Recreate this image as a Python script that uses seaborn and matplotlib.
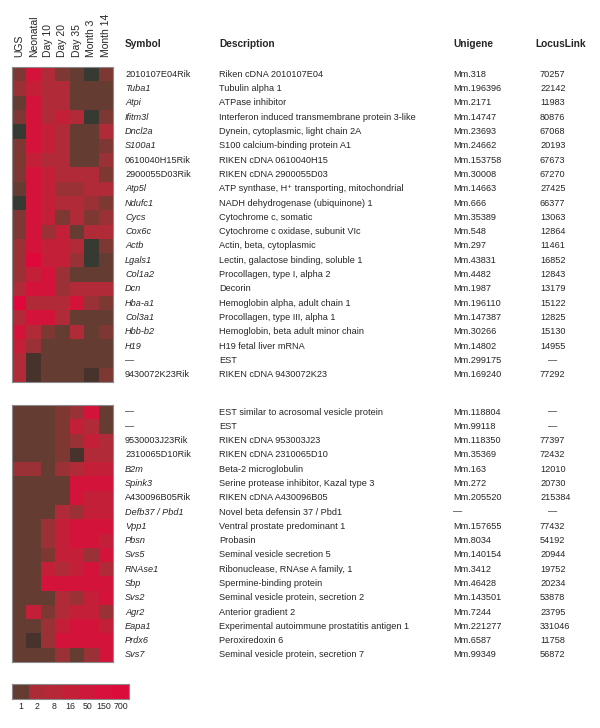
import numpy as np
import matplotlib
matplotlib.use("Agg")
import matplotlib.pyplot as plt
import matplotlib.transforms as mtransforms
from matplotlib.colors import LinearSegmentedColormap
import seaborn as sns

sns.set_style("white")
plt.rcParams['font.family'] = ['Liberation Sans', 'DejaVu Sans']

# stages (heatmap columns)
stages = ["UGS", "Neonatal", "Day 10", "Day 20", "Day 35", "Month 3", "Month 14"]

# expression level codes
# 0 = dark grey, 1 = dark brown, 2 = brown (1x) ... 8 = brightest red
top_symbols = ["2010107E04Rik", "Tuba1", "Atpi", "Ifitm3l", "Dncl2a", "S100a1",
               "0610040H15Rik", "2900055D03Rik", "Atp5l", "Ndufc1", "Cycs", "Cox6c",
               "Actb", "Lgals1", "Col1a2", "Dcn", "Hba-a1", "Col3a1", "Hbb-b2", "H19",
               "\u2014", "9430072K23Rik"]
top_italic = [False, True, True, True, True, True, False, False, True, True, True, True,
              True, True, True, True, True, True, True, True, False, False]
top_desc = ["Riken cDNA 2010107E04", "Tubulin alpha 1", "ATPase inhibitor",
            "Interferon induced transmembrane protein 3-like",
            "Dynein, cytoplasmic, light chain 2A", "S100 calcium-binding protein A1",
            "RIKEN cDNA 0610040H15", "RIKEN cDNA 2900055D03",
            "ATP synthase, H\u207a transporting, mitochondrial",
            "NADH dehydrogenase (ubiquinone) 1", "Cytochrome c, somatic",
            "Cytochrome c oxidase, subunit VIc", "Actin, beta, cytoplasmic",
            "Lectin, galactose binding, soluble 1", "Procollagen, type I, alpha 2",
            "Decorin", "Hemoglobin alpha, adult chain 1", "Procollagen, type III, alpha 1",
            "Hemoglobin, beta adult minor chain", "H19 fetal liver mRNA", "EST",
            "RIKEN cDNA 9430072K23"]
top_unigene = ["Mm.318", "Mm.196396", "Mm.2171", "Mm.14747", "Mm.23693", "Mm.24662",
               "Mm.153758", "Mm.30008", "Mm.14663", "Mm.666", "Mm.35389", "Mm.548",
               "Mm.297", "Mm.43831", "Mm.4482", "Mm.1987", "Mm.196110", "Mm.147387",
               "Mm.30266", "Mm.14802", "Mm.299175", "Mm.169240"]
top_locus = ["70257", "22142", "11983", "80876", "67068", "20193", "67673", "67270",
             "27425", "66377", "13063", "12864", "11461", "16852", "12843", "13179",
             "15122", "12825", "15130", "14955", "\u2014", "77292"]
top_levels = [
    [3, 7, 5, 3, 2, 0, 3],
    [4, 6, 5, 5, 2, 2, 2],
    [2, 7, 5, 5, 2, 2, 2],
    [3, 7, 5, 6, 5, 0, 3],
    [0, 7, 6, 5, 2, 2, 5],
    [3, 7, 6, 5, 2, 2, 3],
    [3, 6, 5, 5, 2, 2, 4],
    [3, 7, 6, 5, 5, 5, 3],
    [2, 7, 6, 4, 4, 5, 5],
    [0, 7, 6, 5, 5, 4, 3],
    [3, 7, 6, 3, 5, 3, 4],
    [3, 7, 4, 6, 2, 5, 5],
    [4, 7, 6, 6, 5, 0, 3],
    [4, 8, 6, 6, 4, 0, 2],
    [4, 6, 7, 4, 2, 2, 2],
    [5, 7, 7, 4, 5, 5, 5],
    [8, 5, 5, 5, 7, 4, 3],
    [5, 7, 7, 5, 2, 2, 2],
    [7, 5, 3, 2, 5, 2, 3],
    [6, 4, 2, 2, 2, 2, 2],
    [5, 1, 2, 2, 2, 2, 2],
    [5, 1, 2, 2, 2, 1, 3],
]

bot_symbols = ["\u2014", "\u2014", "9530003J23Rik", "2310065D10Rik", "B2m", "Spink3",
               "A430096B05Rik", "Defb37 / Pbd1", "Vpp1", "Pbsn", "Svs5", "RNAse1", "Sbp",
               "Svs2", "Agr2", "Eapa1", "Prdx6", "Svs7"]
bot_italic = [False, False, False, False, True, True, False, True, True, True, True, True,
              True, True, True, True, True, True]
bot_desc = ["EST similar to acrosomal vesicle protein", "EST", "RIKEN cDNA 953003J23",
            "RIKEN cDNA 2310065D10", "Beta-2 microglobulin",
            "Serine protease inhibitor, Kazal type 3", "RIKEN cDNA A430096B05",
            "Novel beta defensin 37 / Pbd1", "Ventral prostate predominant 1", "Probasin",
            "Seminal vesicle secretion 5", "Ribonuclease, RNAse A family, 1",
            "Spermine-binding protein", "Seminal vesicle protein, secretion 2",
            "Anterior gradient 2", "Experimental autoimmune prostatitis antigen 1",
            "Peroxiredoxin 6", "Seminal vesicle protein, secretion 7"]
bot_unigene = ["Mm.118804", "Mm.99118", "Mm.118350", "Mm.35369", "Mm.163", "Mm.272",
               "Mm.205520", "\u2014", "Mm.157655", "Mm.8034", "Mm.140154", "Mm.3412",
               "Mm.46428", "Mm.143501", "Mm.7244", "Mm.221277", "Mm.6587", "Mm.99349"]
bot_locus = ["\u2014", "\u2014", "77397", "72432", "12010", "20730", "215384", "\u2014",
             "77432", "54192", "20944", "19752", "20234", "53878", "23795", "331046",
             "11758", "56872"]
bot_levels = [
    [2, 2, 2, 3, 4, 7, 2],
    [2, 2, 2, 3, 6, 5, 2],
    [2, 2, 2, 3, 4, 6, 5],
    [2, 2, 2, 3, 1, 5, 5],
    [4, 4, 2, 4, 5, 6, 6],
    [2, 2, 2, 2, 7, 7, 7],
    [2, 2, 2, 2, 7, 6, 6],
    [2, 2, 2, 5, 4, 6, 6],
    [2, 2, 4, 6, 7, 7, 7],
    [2, 2, 4, 6, 7, 7, 6],
    [2, 2, 3, 6, 6, 4, 7],
    [2, 2, 6, 5, 6, 7, 5],
    [2, 2, 7, 7, 7, 7, 7],
    [2, 2, 2, 5, 4, 6, 7],
    [2, 6, 3, 5, 6, 6, 4],
    [2, 2, 4, 6, 7, 7, 6],
    [2, 1, 4, 7, 7, 7, 7],
    [2, 2, 2, 4, 2, 4, 7],
]

# colour key
key_labels = ["1", "2", "8", "16", "50", "150", "700"]
key_levels = [2, 4.8, 5.3, 6.0, 6.6, 7.2, 7.6]

level_colors = ["#373a33", "#47332c", "#643c31", "#7e3834", "#9a3136",
                "#b02a37", "#c41f39", "#d4133b", "#e0083a"]
cmap = LinearSegmentedColormap.from_list("expr", level_colors)

W, H = 600, 728
fig = plt.figure(figsize=(W / 100, H / 100), dpi=100)


def fig_box(x0, y0, x1, y1):
    return [x0 / W, 1 - y1 / H, (x1 - x0) / W, (y1 - y0) / H]


def outline(ax):
    for s in ax.spines.values():
        s.set_visible(True)
        s.set_color("#8a8a8a")
        s.set_linewidth(0.8)


def draw_block(box, levels, symbols, italic, desc, unigene, locus, labels):
    ax = fig.add_axes(box)
    sns.heatmap(np.array(levels), ax=ax, cmap=cmap, vmin=0, vmax=8, cbar=False,
                xticklabels=stages if labels else False, yticklabels=False)
    outline(ax)
    if labels:
        ax.xaxis.tick_top()
        ax.tick_params(axis="x", length=0, pad=7, labelsize=7.5)
        plt.setp(ax.get_xticklabels(), rotation=90, va="bottom")
    tr = mtransforms.blended_transform_factory(fig.transFigure, ax.transData)
    fs = 6.6
    for i in range(len(symbols)):
        y = i + 0.5
        ax.text(125 / W, y, symbols[i], transform=tr, fontsize=fs, va="center",
                style="italic" if italic[i] else "normal", clip_on=False)
        ax.text(219 / W, y, desc[i], transform=tr, fontsize=fs, va="center", clip_on=False)
        ax.text(453 / W, y, unigene[i], transform=tr, fontsize=fs, va="center", clip_on=False)
        lx = 548 / W if locus[i] == "\u2014" else 540 / W
        ax.text(lx, y, locus[i], transform=tr, fontsize=fs, va="center", clip_on=False)
    return ax


draw_block(fig_box(12, 67, 113, 382), top_levels, top_symbols, top_italic, top_desc,
           top_unigene, top_locus, True)
draw_block(fig_box(12, 405, 113, 662), bot_levels, bot_symbols, bot_italic, bot_desc,
           bot_unigene, bot_locus, False)

# column headers
for x, t in [(125, "Symbol"), (219, "Description"), (453, "Unigene"), (535, "LocusLink")]:
    fig.text(x / W, 1 - 44 / H, t, fontsize=7.3, fontweight="bold", va="center")

# colour key
kax = fig.add_axes(fig_box(12, 684, 129, 699))
sns.heatmap(np.array([key_levels]), ax=kax, cmap=cmap, vmin=0, vmax=8, cbar=False,
            xticklabels=key_labels, yticklabels=False)
outline(kax)
kax.tick_params(axis="x", length=0, pad=2, labelsize=6.3)
plt.setp(kax.get_xticklabels(), rotation=0)

fig.savefig("out.png", dpi=100)
